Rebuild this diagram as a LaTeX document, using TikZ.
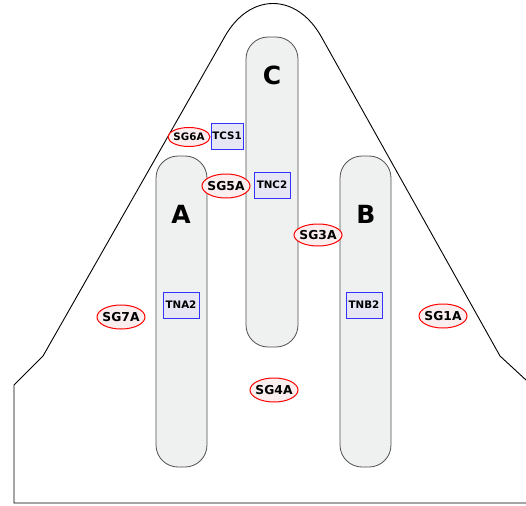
\documentclass[tikz,border=0pt]{standalone}
\usepackage{fontspec}
\setmainfont{DejaVu Sans}
\definecolor{towerfill}{HTML}{EFF0F0}
\definecolor{towerdraw}{HTML}{505050}
\definecolor{sgfill}{HTML}{FBEEEE}
\definecolor{tnfill}{HTML}{E6E6F5}
\definecolor{tnblue}{HTML}{3333FF}
\begin{document}
\begin{tikzpicture}[x=1pt,y=-1pt,
  tower/.style={draw=towerdraw, fill=towerfill, line width=0.8pt, rounded corners=22pt},
  towerlabel/.style={font=\bfseries\fontsize{25}{25}\selectfont},
  sgshape/.style={draw=red, fill=sgfill, line width=1pt},
  sg/.style={inner sep=0pt, font=\bfseries\fontsize{12.3}{12.3}\selectfont},
  sgsmall/.style={inner sep=0pt, font=\bfseries\fontsize{10.3}{10.3}\selectfont},
  tn/.style={draw=tnblue, fill=tnfill, line width=0.8pt, inner sep=0pt, minimum width=36pt, minimum height=26pt, font=\bfseries\fontsize{10.3}{10.3}\selectfont}]
\useasboundingbox (0,0) rectangle (526,505);
% outline
\draw[line width=0.9pt, black] (526,380) -- (500,356) -- (322,38) .. controls (297,-8) and (249,-8) .. (224,38) -- (43,356) -- (14,385) -- (14,503) -- (526,503);
% towers
\draw[tower] (246,37) rectangle (298,347);
\draw[tower] (156,156) rectangle (207,467);
\draw[tower] (340,156) rectangle (391,467);
\node[towerlabel] (lc) at (272,75) {C};
\node[towerlabel] (la) at (181,214) {A};
\node[towerlabel] (lb) at (366,214) {B};
% TN boxes
\node[tn, minimum width=32pt] (tcs1) at (227,136) {TCS1};
\node[tn] (tnc2) at (272,185) {TNC2};
\node[tn] (tna2) at (181,305) {TNA2};
\node[tn] (tnb2) at (364,305) {TNB2};
% SG ellipses
\draw[sgshape] (189,137) ellipse [x radius=21, y radius=9.5];
\node[sgsmall] (sg6a) at (189,137) {SG6A};
\draw[sgshape] (226,186) ellipse [x radius=24, y radius=12];
\node[sg] (sg5a) at (226,186) {SG5A};
\draw[sgshape] (318,235) ellipse [x radius=24, y radius=11];
\node[sg] (sg3a) at (318,235) {SG3A};
\draw[sgshape] (443,316) ellipse [x radius=24, y radius=12];
\node[sg] (sg1a) at (443,316) {SG1A};
\draw[sgshape] (121,317) ellipse [x radius=24, y radius=12];
\node[sg] (sg7a) at (121,317) {SG7A};
\draw[sgshape] (274,390) ellipse [x radius=24, y radius=12];
\node[sg] (sg4a) at (274,390) {SG4A};
\end{tikzpicture}
\end{document}
